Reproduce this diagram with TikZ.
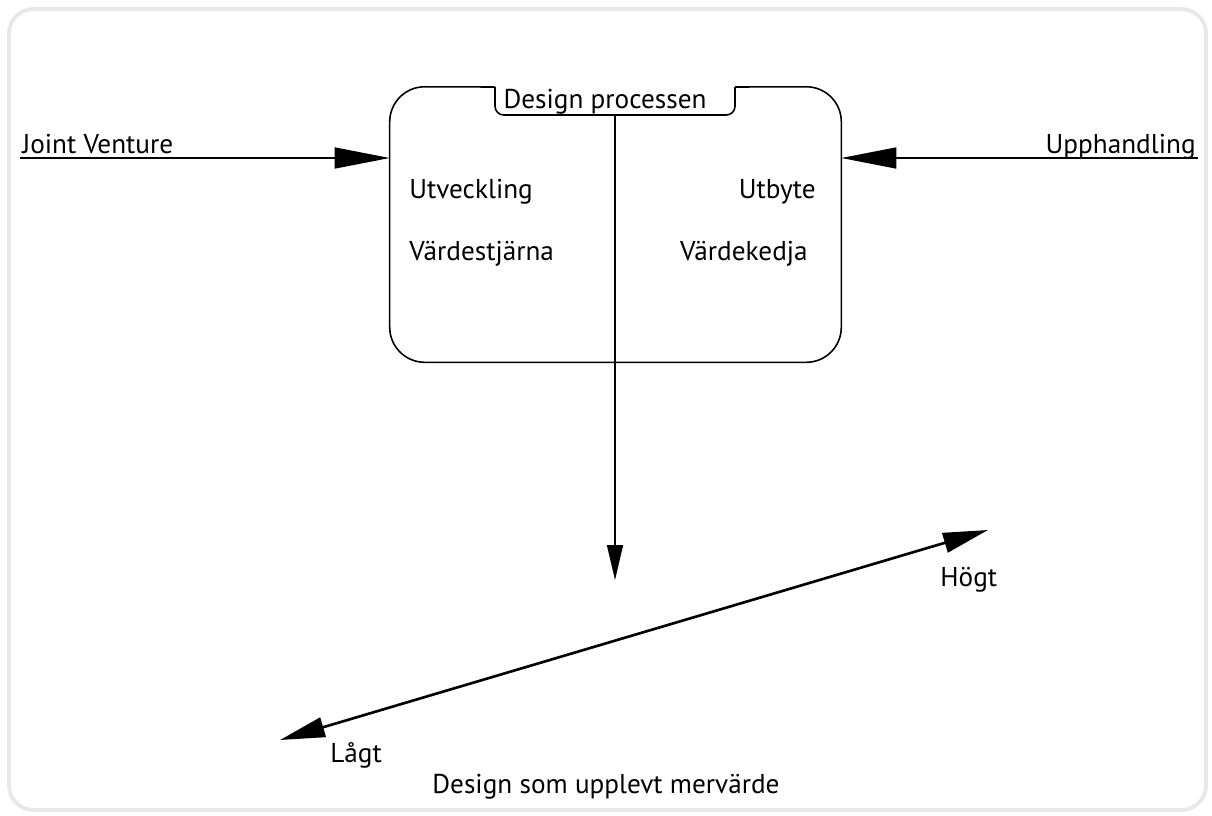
\documentclass[tikz,border=0pt]{standalone}
\usepackage{fontspec}
\setmainfont{PT Sans}
\usetikzlibrary{arrows.meta, positioning, calc}

\begin{document}
\begin{tikzpicture}[x=0.02cm, y=-0.02cm,
    every node/.style={font=\fontsize{15.5}{18}\selectfont, inner sep=0pt},
    >=Triangle,
    frame/.style={draw=black!9, line width=2.2pt, rounded corners=14pt},
    boxline/.style={draw=black, line width=0.9pt},
    line/.style={draw, line width=0.9pt, -{Triangle[length=1.1cm, width=0.42cm]}},
    downline/.style={draw, line width=0.9pt, -{Triangle[length=0.7cm, width=0.32cm]}},
    valueline/.style={draw, line width=1.5pt, {Triangle[length=0.9cm, width=0.4cm]}-{Triangle[length=0.9cm, width=0.4cm]}}]

% Frame
\useasboundingbox (0,0) rectangle (1212,815);
\draw[frame] (9,9) rectangle (1206,810);

% Design process box
\node[minimum width=9.02cm, minimum height=5.5cm] (proc) at (615.5,224.5) {};
\draw[boxline, rounded corners=20pt] (495,87) -- (proc.north west) -- (proc.south west) -- (proc.south east) -- (proc.north east) -- (735,87);
\draw[boxline, rounded corners=5pt] (495,87) -- (495,115) -- (735,115) -- (735,87);
\node[anchor=base] (dp) at (605,108) {Design processen};
\coordinate (notch) at (615,115);

% Texts in the box
\node[anchor=base west] (utv) at (409,198) {Utveckling};
\node[anchor=base west] (vstj) at (409,260) {Värdestjärna};
\node[anchor=base east] (utb) at (816,198) {Utbyte};
\node[anchor=base east] (vked) at (808,260) {Värdekedja};

% Inputs
\node[anchor=base west] (jv) at (22,153) {Joint Venture};
\node[anchor=base east] (upph) at (1196,153) {Upphandling};
\coordinate (jvstart) at (20,158);
\coordinate (upstart) at (1198,158);

% Value scale
\coordinate (down) at (615,580);
\coordinate (lowpt) at (280,740);
\coordinate (highpt) at (988,530);
\node[anchor=base west] (hogt) at (940,586) {Högt};
\node[anchor=base west] (lagt) at (330,762) {Lågt};
\node[anchor=base west] (merv) at (432,793) {Design som upplevt mervärde};

% Paths
\draw [line] (jvstart) -- (proc.west |- jvstart);
\draw [line] (upstart) -- (proc.east |- upstart);
\draw [downline] (notch) -- (down);
\draw [valueline] (lowpt) -- (highpt);

\end{tikzpicture}
\end{document}
